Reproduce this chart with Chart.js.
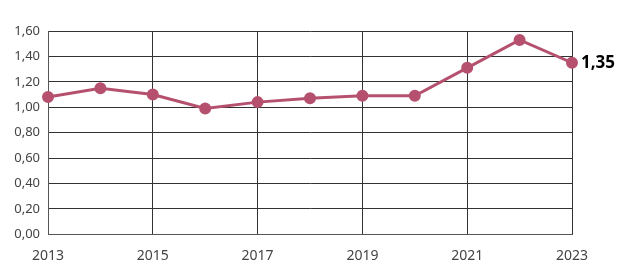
<!DOCTYPE html>
<html>
<head>
<meta charset="utf-8">
<script src="https://cdn.jsdelivr.net/npm/chart.js@4/dist/chart.umd.min.js"></script>
<style>
  html, body { margin: 0; padding: 0; background: #fff; }
  #wrap { width: 631px; height: 275px; }
</style>
</head>
<body>
<div id="wrap"><canvas id="chart"></canvas></div>
<script>
const years = [2013, 2014, 2015, 2016, 2017, 2018, 2019, 2020, 2021, 2022, 2023];
const values = [1.08, 1.15, 1.10, 0.99, 1.04, 1.07, 1.09, 1.09, 1.31, 1.53, 1.35];
const endLabel = '1,35';

const lineColor = '#b5516f';

// writes the last value to the right of the line
const endLabelPlugin = {
    id: 'endLabel',
    afterDatasetsDraw(chart) {
        const meta = chart.getDatasetMeta(0);
        const last = meta.data[meta.data.length - 1];
        const ctx = chart.ctx;
        ctx.save();
        ctx.font = 'bold 17px "Noto Sans"';
        ctx.fillStyle = '#000';
        ctx.textBaseline = 'middle';
        ctx.fillText(endLabel, last.x + 9, last.y);
        ctx.restore();
    }
};

new Chart(document.getElementById('chart'), {
    type: 'line',
    data: {
        datasets: [{
            data: years.map((y, i) => ({ x: y, y: values[i] })),
            borderColor: lineColor,
            backgroundColor: lineColor,
            borderWidth: 3,
            pointRadius: 4.5,
            pointHoverRadius: 4.5,
            tension: 0,
            clip: false
        }]
    },
    plugins: [endLabelPlugin],
    options: {
        responsive: true,
        maintainAspectRatio: false,
        animation: false,
        layout: { padding: { left: 0, right: 59, top: 31, bottom: -2 } },
        plugins: { legend: { display: false }, tooltip: { enabled: false } },
        scales: {
            x: {
                type: 'linear',
                min: 2013,
                max: 2023,
                ticks: {
                    stepSize: 2,
                    color: '#444',
                    padding: 13,
                    font: { family: '"Noto Sans"', size: 14 },
                    callback: (v) => String(v)
                },
                grid: { color: '#333', lineWidth: 1, drawTicks: false },
                border: { color: '#555', width: 1 }
            },
            y: {
                min: 0,
                max: 1.6,
                afterFit: (scale) => { scale.width = 48; },
                ticks: {
                    stepSize: 0.2,
                    color: '#444',
                    padding: 8,
                    font: { family: '"Noto Sans"', size: 13 },
                    callback: (v) => v.toFixed(2).replace('.', ',')
                },
                grid: { color: '#333', lineWidth: 1, drawTicks: false },
                border: { color: '#555', width: 1 }
            }
        }
    }
});
</script>
</body>
</html>
